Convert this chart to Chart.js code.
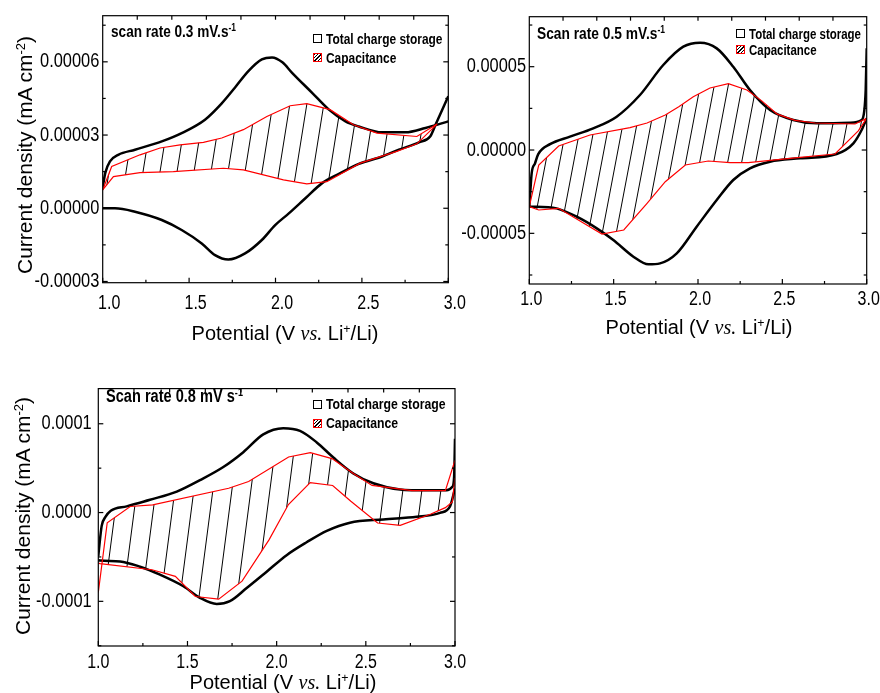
<!DOCTYPE html>
<html><head><meta charset="utf-8">
<script src="https://cdn.jsdelivr.net/npm/chart.js"></script>
<style>
html,body{margin:0;padding:0;background:#fff;overflow:hidden;width:880px;height:693px;}
#wrap{position:relative;width:880px;height:693px;}
canvas{position:absolute;}
.t{position:absolute;white-space:nowrap;color:#000;font-family:'Liberation Sans',Arial,sans-serif;line-height:1;}
.ytitle{transform:translate(-50%,-50%) rotate(-90deg);font-size:21px;}
.xtitle{transform:translate(-50%,-50%);font-size:20px;}
.vs{font-family:'Liberation Serif','Times New Roman',serif;font-style:italic;}
sup{font-size:0.62em;vertical-align:0;position:relative;top:-0.55em;}
.note{font-weight:bold;transform-origin:0 50%;}
.leg{display:flex;align-items:center;height:16px;}
.leg span.tx{display:inline-block;font-weight:bold;font-size:15.5px;transform-origin:0 50%;}
.box{display:inline-block;box-sizing:border-box;width:9px;height:9px;border:1.2px solid #000;background:#fff;margin-right:4px;flex:none;}
.hbox{border-color:#f00;background:repeating-linear-gradient(135deg,#000 0 1px,#fff 1px 2.4px);}
</style></head>
<body><div id="wrap">
<canvas id="c1"></canvas><canvas id="c2"></canvas><canvas id="c3"></canvas>

<div class="t ytitle" style="left:24px;top:155px;">Current density (mA cm<sup>-2</sup>)</div>
<div class="t xtitle" style="left:285px;top:333px;">Potential (V <span class="vs">vs.</span> Li<sup>+</sup>/Li)</div>
<div class="t note" style="left:111px;top:23px;font-size:17px;transform:scaleX(0.8);">scan rate 0.3 mV.s<sup>-1</sup></div>
<div class="t leg" style="left:312.7px;top:30.8px;"><span class="box"></span><span class="tx" style="transform:scaleX(0.77)">Total charge storage</span></div>
<div class="t leg" style="left:312.7px;top:49.8px;"><span class="box hbox"></span><span class="tx" style="transform:scaleX(0.77)">Capacitance</span></div>

<div class="t xtitle" style="left:699px;top:327px;">Potential (V <span class="vs">vs.</span> Li<sup>+</sup>/Li)</div>
<div class="t note" style="left:537.3px;top:24.6px;font-size:17px;transform:scaleX(0.81);">Scan rate 0.5 mV.s<sup>-1</sup></div>
<div class="t leg" style="left:736px;top:25.3px;"><span class="box"></span><span class="tx" style="transform:scaleX(0.74)">Total charge storage</span></div>
<div class="t leg" style="left:736px;top:41.5px;"><span class="box hbox"></span><span class="tx" style="transform:scaleX(0.74)">Capacitance</span></div>

<div class="t ytitle" style="left:22px;top:516px;">Current density (mA cm<sup>-2</sup>)</div>
<div class="t xtitle" style="left:283px;top:682px;">Potential (V <span class="vs">vs.</span> Li<sup>+</sup>/Li)</div>
<div class="t note" style="left:106px;top:386.8px;font-size:18px;transform:scaleX(0.81);">Scan rate 0.8 mV s<sup>-1</sup></div>
<div class="t leg" style="left:312.7px;top:396.2px;"><span class="box"></span><span class="tx" style="transform:scaleX(0.79)">Total charge storage</span></div>
<div class="t leg" style="left:312.7px;top:415.2px;"><span class="box hbox"></span><span class="tx" style="transform:scaleX(0.79)">Capacitance</span></div>
</div>
<script>
// ---------- tick labels ----------
const potentialTicks = [1.0, 1.5, 2.0, 2.5, 3.0];
const p1YTicks = [-0.00003, 0, 0.00003, 0.00006];
const p2YTicks = [-0.00005, 0, 0.00005];
const p3YTicks = [-0.0001, 0, 0.0001];

// ---------- panel 1 : 0.3 mV/s  [potential V, current density mA cm-2] ----------
const p1TotalUpper = [[1.000,0.85e-5],[1.015,1.45e-5],[1.042,1.92e-5],[1.090,2.19e-5],[1.187,2.40e-5],[1.342,2.74e-5],[1.457,3.08e-5],[1.592,3.63e-5],[1.689,4.30e-5],[1.766,4.95e-5],[1.843,5.62e-5],[1.921,6.10e-5],[1.980,6.18e-5],[2.040,5.98e-5],[2.096,5.55e-5],[2.212,4.73e-5],[2.309,4.04e-5],[2.405,3.56e-5],[2.482,3.35e-5],[2.617,3.11e-5],[2.752,3.11e-5],[2.868,3.29e-5],[3.000,3.56e-5]];
const p1TotalLower = [[1.000,0.00e-5],[1.071,0.00e-5],[1.187,-0.14e-5],[1.342,-0.48e-5],[1.457,-0.89e-5],[1.573,-1.44e-5],[1.650,-1.92e-5],[1.727,-2.10e-5],[1.824,-1.85e-5],[1.921,-1.30e-5],[1.998,-0.69e-5],[2.077,-0.21e-5],[2.173,0.41e-5],[2.270,1.03e-5],[2.367,1.41e-5],[2.482,1.82e-5],[2.617,2.12e-5],[2.714,2.40e-5],[2.830,2.70e-5],[2.895,2.94e-5],[2.926,3.42e-5],[3.000,4.59e-5]];
const p1CapUpper = [[1.000,0.75e-5],[1.052,1.71e-5],[1.216,2.19e-5],[1.332,2.47e-5],[1.448,2.60e-5],[1.583,2.70e-5],[1.689,2.88e-5],[1.814,3.22e-5],[1.950,3.76e-5],[2.085,4.20e-5],[2.181,4.29e-5],[2.316,4.04e-5],[2.451,3.42e-5],[2.587,3.08e-5],[2.818,2.94e-5],[2.935,3.45e-5]];
const p1CapLower = [[1.000,0.75e-5],[1.062,1.30e-5],[1.216,1.46e-5],[1.409,1.50e-5],[1.698,1.64e-5],[1.814,1.57e-5],[2.046,1.16e-5],[2.181,1.00e-5],[2.297,1.09e-5],[2.490,1.85e-5],[2.702,2.33e-5],[2.818,2.64e-5],[2.935,3.45e-5]];

// ---------- panel 2 : 0.5 mV/s ----------
const p2TotalUpper = [[1.000,-3.40e-5],[1.006,-2.50e-5],[1.014,-1.40e-5],[1.034,-0.80e-5],[1.053,-0.25e-5],[1.123,0.35e-5],[1.241,0.80e-5],[1.379,1.30e-5],[1.518,2.00e-5],[1.656,3.30e-5],[1.794,5.10e-5],[1.913,6.20e-5],[2.012,6.44e-5],[2.111,6.10e-5],[2.209,5.00e-5],[2.308,3.60e-5],[2.427,2.40e-5],[2.565,1.80e-5],[2.704,1.60e-5],[2.901,1.64e-5],[2.970,1.80e-5],[2.985,2.30e-5],[2.994,3.60e-5],[3.000,6.10e-5]];
const p2TotalLower = [[1.000,-3.40e-5],[1.044,-3.40e-5],[1.162,-3.50e-5],[1.281,-4.00e-5],[1.400,-4.70e-5],[1.498,-5.40e-5],[1.617,-6.40e-5],[1.706,-6.86e-5],[1.775,-6.80e-5],[1.874,-6.20e-5],[1.992,-4.60e-5],[2.111,-3.00e-5],[2.209,-1.80e-5],[2.308,-1.10e-5],[2.427,-0.70e-5],[2.605,-0.50e-5],[2.822,-0.24e-5],[2.921,0.40e-5],[2.970,1.20e-5],[3.000,1.90e-5]];
const p2CapUpper = [[1.000,-3.40e-5],[1.056,-0.90e-5],[1.174,0.24e-5],[1.360,0.90e-5],[1.597,1.34e-5],[1.698,1.62e-5],[1.806,2.10e-5],[1.886,2.60e-5],[1.972,3.20e-5],[2.071,3.72e-5],[2.180,3.98e-5],[2.290,3.60e-5],[2.378,2.95e-5],[2.470,2.15e-5],[2.575,1.78e-5],[2.694,1.62e-5],[2.931,1.56e-5],[3.000,1.90e-5]];
const p2CapLower = [[1.000,-3.40e-5],[1.056,-3.60e-5],[1.174,-3.50e-5],[1.431,-5.04e-5],[1.560,-4.80e-5],[1.698,-3.20e-5],[1.806,-1.90e-5],[1.925,-0.90e-5],[2.061,-0.66e-5],[2.190,-0.76e-5],[2.298,-0.76e-5],[2.605,-0.44e-5],[2.812,-0.24e-5],[2.950,1.15e-5],[3.000,1.90e-5]];

// ---------- panel 3 : 0.8 mV/s ----------
const p3TotalUpper = [[1.000,-4.90e-5],[1.004,-4.10e-5],[1.019,-1.50e-5],[1.040,-0.50e-5],[1.070,0.20e-5],[1.159,0.70e-5],[1.290,1.44e-5],[1.440,2.36e-5],[1.570,3.65e-5],[1.701,5.13e-5],[1.813,6.80e-5],[1.925,8.80e-5],[2.037,9.50e-5],[2.131,9.20e-5],[2.225,7.90e-5],[2.318,6.20e-5],[2.430,4.40e-5],[2.542,3.30e-5],[2.692,2.60e-5],[2.841,2.50e-5],[2.953,2.50e-5],[2.985,2.90e-5],[2.995,4.00e-5],[3.000,8.30e-5]];
const p3TotalLower = [[1.000,-5.35e-5],[1.010,-5.40e-5],[1.122,-5.50e-5],[1.234,-6.10e-5],[1.346,-7.00e-5],[1.477,-8.30e-5],[1.570,-9.60e-5],[1.664,-10.30e-5],[1.738,-9.98e-5],[1.832,-8.50e-5],[1.944,-6.66e-5],[2.056,-4.80e-5],[2.168,-3.35e-5],[2.281,-2.06e-5],[2.411,-1.14e-5],[2.598,-0.77e-5],[2.785,-0.48e-5],[2.916,-0.03e-5],[2.972,0.70e-5],[3.000,2.70e-5]];
const p3CapUpper = [[1.000,-9.00e-5],[1.050,-1.15e-5],[1.179,0.68e-5],[1.305,0.86e-5],[1.731,2.74e-5],[1.843,3.50e-5],[2.067,6.26e-5],[2.189,6.74e-5],[2.310,6.08e-5],[2.430,4.40e-5],[2.535,3.05e-5],[2.759,2.47e-5],[2.946,2.47e-5],[3.000,5.90e-5]];
const p3CapLower = [[1.000,-5.70e-5],[1.010,-5.75e-5],[1.301,-6.44e-5],[1.432,-7.18e-5],[1.544,-9.46e-5],[1.675,-9.76e-5],[1.806,-7.73e-5],[1.958,-3.05e-5],[2.066,0.90e-5],[2.188,3.37e-5],[2.314,3.05e-5],[2.416,1.27e-5],[2.566,-1.18e-5],[2.693,-1.45e-5],[2.865,-0.16e-5],[2.946,0.55e-5],[2.985,1.20e-5],[3.000,3.90e-5]];

// ---------- drawing ----------
const TICK_FONT = {family: "'Liberation Sans',Arial,sans-serif", size: 20};
const LABEL_SQUEEZE = {x: 0.8, y: 0.82};

function hatchPattern(spacing, slant) {
  const c = document.createElement('canvas');
  c.width = spacing; c.height = 8;
  const g = c.getContext('2d');
  g.fillStyle = '#000';
  g.fillRect(0, 0, 1, 8);
  const p = g.createPattern(c, 'repeat');
  p.setTransform(new DOMMatrix([1, 0, -slant, 1, 0, 0]));
  return p;
}

// condensed tick labels: each label is squeezed horizontally about its own anchor
const narrowLabels = {
  id: 'narrowLabels',
  beforeDraw(chart) {
    Object.values(chart.scales).forEach(sc => {
      if (sc._narrowPatched) return;
      sc._narrowPatched = true;
      const orig = sc.drawLabels;
      sc.drawLabels = function (area) {
        const ctx = this.ctx;
        const rot = ctx.rotate;
        const sx = LABEL_SQUEEZE[this.axis] || 1;
        ctx.rotate = function (r) { rot.call(this, r); this.scale(sx, 1); };
        try { orig.call(this, area); } finally { ctx.rotate = rot; }
      };
    });
  }
};

const framePlugin = {
  id: 'frame',
  afterDatasetsDraw(chart) {
    const {ctx, chartArea: a, scales: {x, y}} = chart;
    const ys = y.ticks.map(t => t.value);
    const step = ys[1] - ys[0];
    ctx.save();
    ctx.strokeStyle = '#000';
    ctx.lineWidth = 1.2;
    const seg = (x1, y1, x2, y2) => { ctx.beginPath(); ctx.moveTo(x1, y1); ctx.lineTo(x2, y2); ctx.stroke(); };
    for (let k = 0; k <= 8; k++) {
      const v = 1 + k * 0.25, px = x.getPixelForValue(v), len = k % 2 ? 3 : 5;
      seg(px, a.bottom, px, a.bottom - len);
    }
    for (let k = 1; k < 10; k++) {
      const px = x.getPixelForValue(1 + k * 0.2);
      seg(px, a.top, px, a.top + 4);
    }
    for (let v = ys[0] - step; v <= y.max + 1e-12; v += step / 2) {
      if (v < y.min) continue;
      const py = y.getPixelForValue(v);
      const major = Math.abs(Math.round(v / step) * step - v) < step * 0.01;
      const len = major ? 5 : 3;
      seg(a.left, py, a.left + len, py);
      seg(a.right, py, a.right - len, py);
    }
    ctx.strokeRect(a.left, a.top, a.right - a.left, a.bottom - a.top);
    ctx.restore();
  }
};

function build(id, g, s) {
  const cv = document.getElementById(id);
  cv.width = g.w; cv.height = g.h;
  cv.style.left = g.left + 'px'; cv.style.top = g.top + 'px';
  const a = g.area;
  const pts = arr => arr.map(([x, y]) => ({x, y}));
  const red = '#ff0000';
  const datasets = [
    {data: pts(s.capUpper), borderColor: red, borderWidth: 1.2, tension: 0, pointRadius: 0,
     fill: '+1', backgroundColor: hatchPattern(s.hatch, s.slant)},
    {data: pts(s.capLower), borderColor: red, borderWidth: 1.2, tension: 0, pointRadius: 0, fill: false},
    {data: pts(s.totalUpper), borderColor: '#000', borderWidth: 2.5, cubicInterpolationMode: 'monotone', pointRadius: 0, fill: false},
    {data: pts(s.totalLower), borderColor: '#000', borderWidth: 2.5, cubicInterpolationMode: 'monotone', pointRadius: 0, fill: false}
  ];
  return new Chart(cv, {
    type: 'line',
    data: {datasets},
    plugins: [narrowLabels, framePlugin],
    options: {
      responsive: false, animation: false, devicePixelRatio: 1,
      layout: {padding: {left: 0, top: a.t, right: g.w - a.r, bottom: 0}},
      plugins: {legend: {display: false}, tooltip: {enabled: false}, filler: {drawTime: 'beforeDatasetsDraw'}},
      scales: {
        x: {
          type: 'linear', min: 1, max: 3,
          afterBuildTicks: sc => { sc.ticks = potentialTicks.map(v => ({value: v})); },
          afterFit: sc => { sc.height = g.h - a.b; },
          grid: {display: false, drawTicks: false}, border: {display: false},
          ticks: {font: TICK_FONT, color: '#000', padding: s.xPad, labelOffset: s.xOff, maxRotation: 0, autoSkip: false,
                  callback: v => Number(v).toFixed(1)}
        },
        y: {
          type: 'linear', min: s.yMin, max: s.yMax,
          afterBuildTicks: sc => { sc.ticks = s.yTicks.map(v => ({value: v})); },
          afterFit: sc => { sc.width = a.l; },
          grid: {display: false, drawTicks: false}, border: {display: false},
          ticks: {font: TICK_FONT, color: '#000', padding: s.yPad, autoSkip: false,
                  callback: v => Number(v).toFixed(s.digits)}
        }
      }
    }
  });
}

build('c1', {left: 0, top: 0, w: 480, h: 330, area: {l: 102.7, t: 15.7, r: 448.3, b: 282.7}},
  {capUpper: p1CapUpper, capLower: p1CapLower, totalUpper: p1TotalUpper, totalLower: p1TotalLower,
   yMin: -3.05e-5, yMax: 7.89e-5, yTicks: p1YTicks, digits: 5, hatch: 17, slant: 0.16, xPad: 8.4, xOff: 6.5, yPad: 3.4});
build('c2', {left: 450, top: 0, w: 440, h: 330, area: {l: 79.3, t: 16.7, r: 416.7, b: 284}},
  {capUpper: p2CapUpper, capLower: p2CapLower, totalUpper: p2TotalUpper, totalLower: p2TotalLower,
   yMin: -8.04e-5, yMax: 8.0e-5, yTicks: p2YTicks, digits: 5, hatch: 14, slant: 0.19, xPad: 3.1, xOff: 2, yPad: 3.3});
build('c3', {left: 0, top: 370, w: 480, h: 323, area: {l: 98.3, t: 12.7, r: 455, b: 276}},
  {capUpper: p3CapUpper, capLower: p3CapLower, totalUpper: p3TotalUpper, totalLower: p3TotalLower,
   yMin: -1.503e-4, yMax: 1.396e-4, yTicks: p3YTicks, digits: 4, hatch: 19, slant: 0.13, xPad: 4.4, xOff: 0, yPad: 6.6});
</script>
</body></html>
